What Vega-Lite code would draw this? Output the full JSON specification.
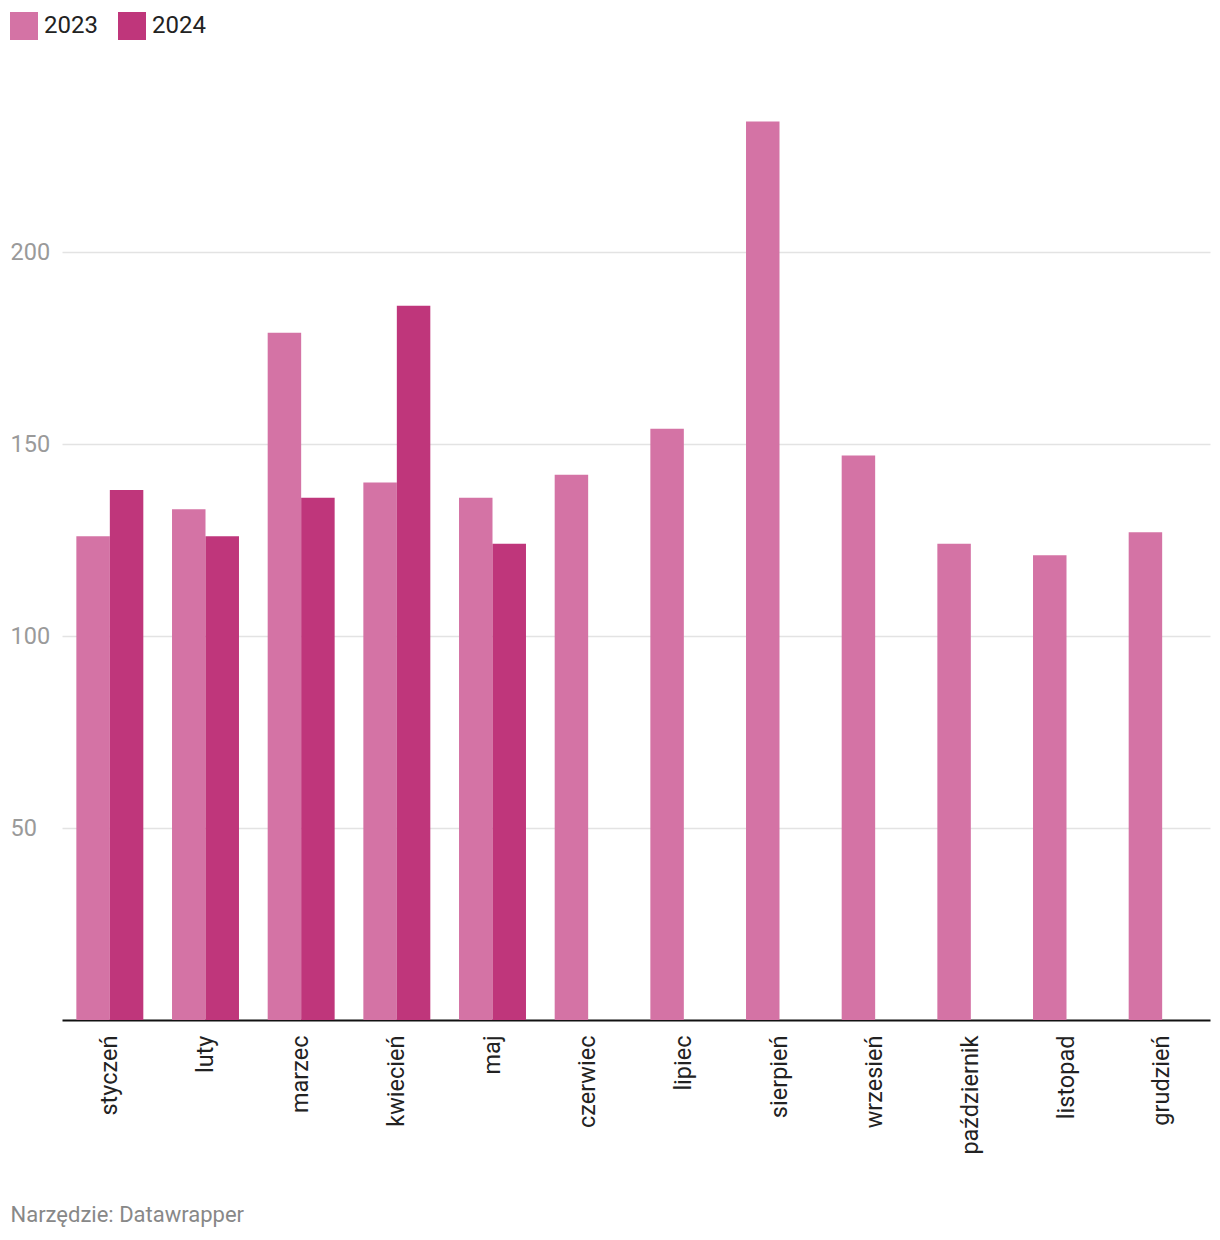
{
  "$schema": "https://vega.github.io/schema/vega-lite/v6.json",
  "autosize": {"type": "none"},
  "padding": {"left": 62, "top": 60, "right": 10, "bottom": 220},
  "width": 1148,
  "height": 960,
  "background": "white",
  "config": {
    "font": "Roboto",
    "view": {"stroke": null}
  },
  "data": {
    "values": [
      {"miesiac": "styczeń", "rok": "2023", "wartosc": 126},
      {"miesiac": "styczeń", "rok": "2024", "wartosc": 138},
      {"miesiac": "luty", "rok": "2023", "wartosc": 133},
      {"miesiac": "luty", "rok": "2024", "wartosc": 126},
      {"miesiac": "marzec", "rok": "2023", "wartosc": 179},
      {"miesiac": "marzec", "rok": "2024", "wartosc": 136},
      {"miesiac": "kwiecień", "rok": "2023", "wartosc": 140},
      {"miesiac": "kwiecień", "rok": "2024", "wartosc": 186},
      {"miesiac": "maj", "rok": "2023", "wartosc": 136},
      {"miesiac": "maj", "rok": "2024", "wartosc": 124},
      {"miesiac": "czerwiec", "rok": "2023", "wartosc": 142},
      {"miesiac": "lipiec", "rok": "2023", "wartosc": 154},
      {"miesiac": "sierpień", "rok": "2023", "wartosc": 234},
      {"miesiac": "wrzesień", "rok": "2023", "wartosc": 147},
      {"miesiac": "październik", "rok": "2023", "wartosc": 124},
      {"miesiac": "listopad", "rok": "2023", "wartosc": 121},
      {"miesiac": "grudzień", "rok": "2023", "wartosc": 127}
    ]
  },
  "mark": {"type": "bar"},
  "encoding": {
    "x": {
      "field": "miesiac",
      "type": "nominal",
      "sort": null,
      "scale": {"paddingInner": 0.3, "paddingOuter": 0.15},
      "axis": {
        "title": "Narzędzie: Datawrapper",
        "titleAnchor": "start",
        "titleAlign": "left",
        "titleX": -52,
        "titleY": 201,
        "titleBaseline": "alphabetic",
        "titleFont": "Roboto",
        "titleFontSize": 22,
        "titleFontWeight": "normal",
        "titleColor": "#888888",
        "labelAngle": -90,
        "labelAlign": "right",
        "labelBaseline": "middle",
        "labelFont": "Roboto",
        "labelFontSize": 23.5,
        "labelColor": "#222222",
        "labelPadding": 15,
        "ticks": false,
        "domainColor": "#111111",
        "domainWidth": 2,
        "grid": false
      }
    },
    "xOffset": {"field": "rok", "type": "nominal", "scale": {"domain": ["2023", "2024"], "paddingInner": 0, "paddingOuter": 0}},
    "y": {
      "field": "wartosc",
      "type": "quantitative",
      "scale": {"domain": [0, 250], "nice": false},
      "axis": {
        "title": null,
        "values": [50, 100, 150, 200],
        "ticks": false,
        "domain": false,
        "labelAlign": "left",
        "labelPadding": 52,
        "labelFont": "Roboto",
        "labelFontSize": 23.5,
        "labelColor": "#9a9a9a",
        "labelBaseline": "middle",
        "gridColor": "#e3e3e3",
        "gridWidth": 1.5
      }
    },
    "color": {
      "field": "rok",
      "type": "nominal",
      "scale": {"domain": ["2023", "2024"], "range": ["#d473a5", "#bf367b"]},
      "legend": {
        "title": null,
        "orient": "none",
        "legendX": -52,
        "legendY": -48,
        "direction": "horizontal",
        "symbolType": "square",
        "symbolSize": 784,
        "symbolStrokeWidth": 0,
        "symbolOpacity": 1,
        "labelFont": "Roboto",
        "labelFontSize": 24,
        "labelColor": "#222222",
        "labelOffset": 6,
        "columnPadding": 20
      }
    }
  }
}
